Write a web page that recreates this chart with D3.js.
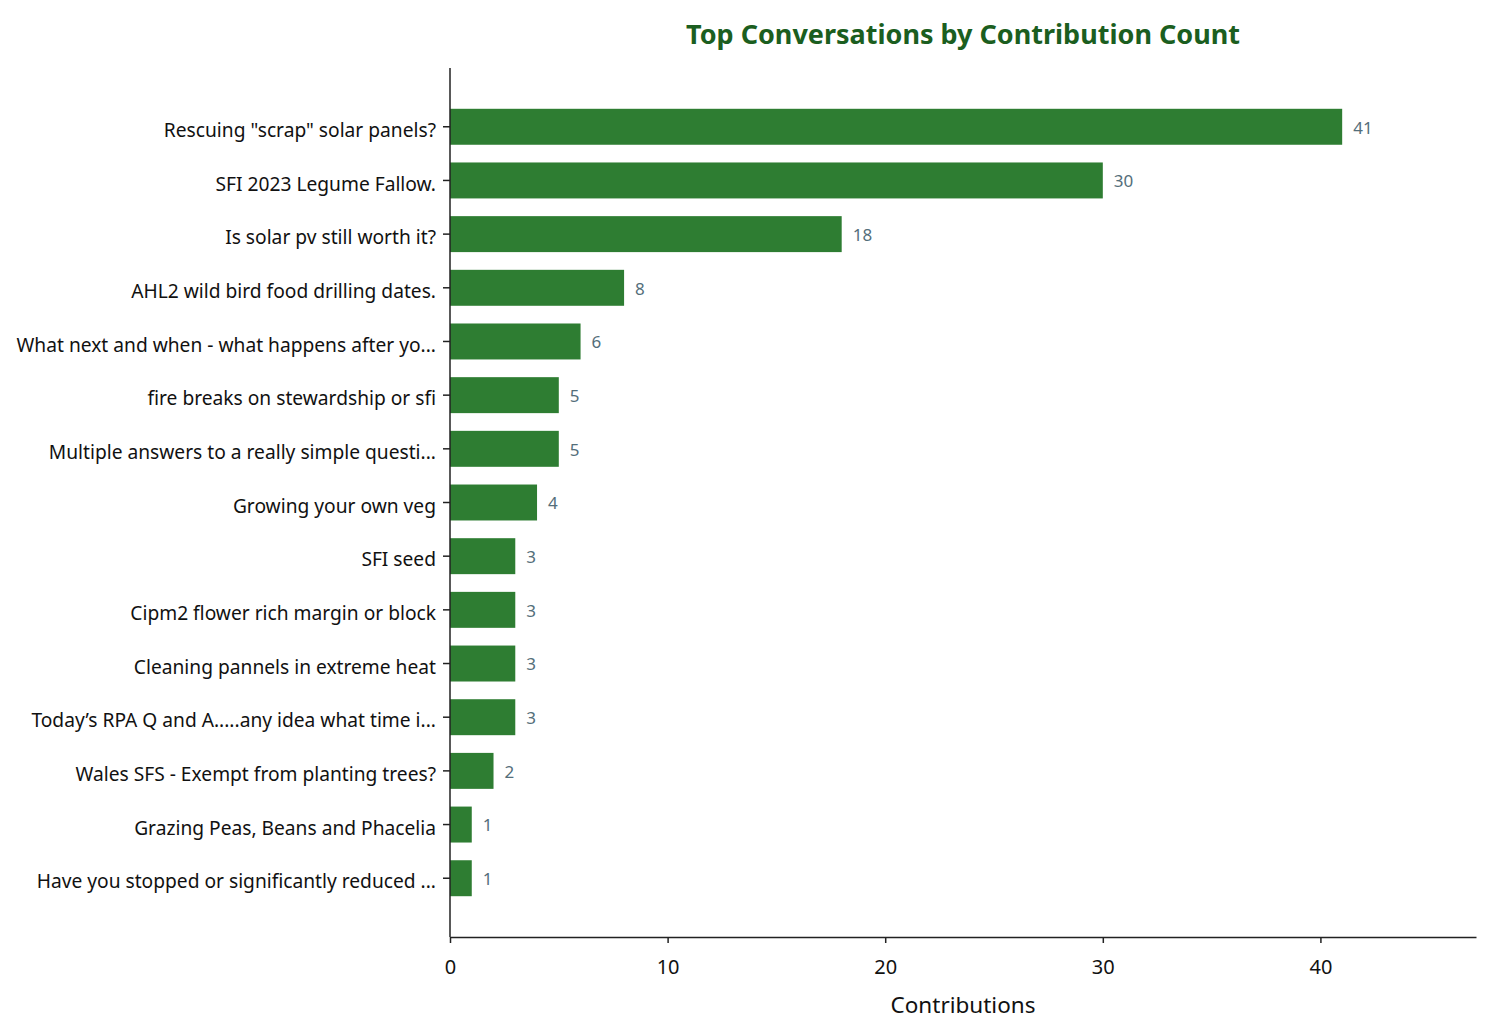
<!DOCTYPE html>
<html>
<head>
<meta charset="utf-8">
<script src="https://cdn.jsdelivr.net/npm/d3@7"></script>
<style>
  body { margin: 0; background: #fff; }
  svg, svg text { font-family: "Noto Sans", "Open Sans", sans-serif; }
  .ylab text { font-size: 19.2px; fill: #111; }
  .xlab text { font-size: 20px; fill: #111; }
  .domain, .tick line { stroke: #222; stroke-width: 1.5px; }
</style>
</head>
<body>
<svg width="1490" height="1035"></svg>
<script>
// conversation titles, most contributions first
var topics = [
  "Rescuing \"scrap\" solar panels?",
  "SFI 2023 Legume Fallow.",
  "Is solar pv still worth it?",
  "AHL2 wild bird food drilling dates.",
  "What next and when - what happens after yo...",
  "fire breaks on stewardship or sfi",
  "Multiple answers to a really simple questi...",
  "Growing your own veg",
  "SFI seed",
  "Cipm2 flower rich margin or block",
  "Cleaning pannels in extreme heat",
  "Today\u2019s RPA Q and A.....any idea what time i...",
  "Wales SFS - Exempt from planting trees?",
  "Grazing Peas, Beans and Phacelia",
  "Have you stopped or significantly reduced ..."
];
var counts = [41, 30, 18, 8, 6, 5, 5, 4, 3, 3, 3, 3, 2, 1, 1];
var xTicks = [0, 10, 20, 30, 40];

var svg = d3.select("svg");
var plotLeft = 450, plotRight = 1476, plotTop = 68, plotBottom = 937;

var x = d3.scaleLinear()
  .domain([0, d3.max(counts) * 1.15])
  .range([plotLeft, plotRight]);

var y = d3.scaleBand()
  .domain(topics)
  .range([plotTop, plotBottom])
  .paddingInner(0.33)
  .paddingOuter(0.76);

// bars
svg.selectAll("rect.bar")
  .data(counts)
  .enter().append("rect")
  .attr("class", "bar")
  .attr("x", x(0))
  .attr("y", function(d, i) { return y(topics[i]); })
  .attr("width", function(d) { return x(d) - x(0); })
  .attr("height", y.bandwidth())
  .attr("fill", "#2e7d32");

// value labels next to each bar
svg.selectAll("text.val")
  .data(counts)
  .enter().append("text")
  .attr("class", "val")
  .attr("x", function(d) { return x(d) + 11; })
  .attr("y", function(d, i) { return y(topics[i]) + y.bandwidth() / 2; })
  .attr("dy", "0.4em")
  .attr("font-size", 17)
  .attr("fill", "#546e7a")
  .text(function(d) { return d; });

// axes
var yAxis = svg.append("g")
  .attr("class", "ylab")
  .attr("transform", "translate(" + plotLeft + ",0)")
  .call(d3.axisLeft(y).tickSize(7).tickPadding(7).tickSizeOuter(0));
yAxis.selectAll(".tick text").attr("dy", "0.53em");

svg.append("g")
  .attr("class", "xlab")
  .attr("transform", "translate(0," + plotBottom + ")")
  .call(d3.axisBottom(x).tickValues(xTicks).tickSize(6).tickPadding(17).tickSizeOuter(0));

// the bar axis runs the full plot height
svg.select(".ylab .domain").attr("d", "M0," + plotTop + "V" + plotBottom);

svg.append("text")
  .attr("x", (plotLeft + plotRight) / 2)
  .attr("y", 1013)
  .attr("text-anchor", "middle")
  .attr("font-size", 22.5)
  .attr("fill", "#111")
  .text("Contributions");

svg.append("text")
  .attr("x", (plotLeft + plotRight) / 2)
  .attr("y", 44)
  .attr("text-anchor", "middle")
  .attr("font-size", 27)
  .attr("font-weight", "bold")
  .attr("fill", "#1b5e20")
  .text("Top Conversations by Contribution Count");
</script>
</body>
</html>
